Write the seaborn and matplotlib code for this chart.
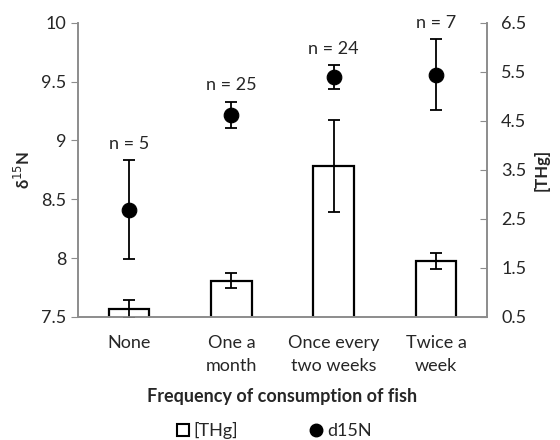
import matplotlib
matplotlib.use("Agg")
import matplotlib.pyplot as plt
import seaborn as sns
import numpy as np
from matplotlib.lines import Line2D
from matplotlib.ticker import FixedLocator

categories = ["None", "One a\nmonth", "Once every\ntwo weeks", "Twice a\nweek"]
n_labels = ["n = 5", "n = 25", "n = 24", "n = 7"]
thg = [0.66, 1.24, 3.58, 1.64]
thg_err = [0.19, 0.15, 0.94, 0.17]
d15n = [8.41, 9.22, 9.54, 9.56]
d15n_err = [0.42, 0.11, 0.10, 0.30]

sns.set_style("white")
plt.rcParams["font.family"] = ["Lato", "DejaVu Sans"]
axis_grey = "#8c8c8c"

fig = plt.figure(figsize=(5.6, 4.4), dpi=100)
ax = fig.add_axes([0.139, 0.280, 0.731, 0.668])
ax2 = ax.twinx()

# bars for [THg] on the right-hand scale
sns.barplot(x=categories, y=thg, color="white", edgecolor="black", linewidth=1.6,
            width=0.4, errorbar=None, ax=ax, zorder=2)
ax.errorbar(np.arange(len(categories)), thg, yerr=thg_err, fmt="none",
            ecolor="black", elinewidth=1.3, capsize=4, capthick=1.3, zorder=3)

# d15N points on the left-hand scale
sns.scatterplot(x=np.arange(len(categories)), y=d15n, color="black", s=110,
                edgecolor="black", ax=ax2, zorder=4, legend=False)
ax2.errorbar(np.arange(len(categories)), d15n, yerr=d15n_err, fmt="none",
             ecolor="black", elinewidth=1.3, capsize=4, capthick=1.3, zorder=3)
for i, lab in enumerate(n_labels):
    ax2.annotate(lab, (i, d15n[i] + d15n_err[i]), xytext=(0, 6), textcoords="offset points",
                 ha="center", va="bottom", fontsize=13)

ax.set_ylim(0.5, 6.5)
ax.set_yticks([0.5, 1.5, 2.5, 3.5, 4.5, 5.5, 6.5])
ax.set_yticklabels(["0.5", "1.5", "2.5", "3.5", "4.5", "5.5", "6.5"])
ax.yaxis.tick_right()
ax.yaxis.set_label_position("right")
ax.set_ylabel("[THg]", fontsize=12, fontweight="bold", labelpad=5)
ax.tick_params(axis="y", direction="in", length=5, color=axis_grey, labelsize=13, pad=10)

ax2.set_ylim(7.5, 10)
ax2.set_yticks([7.5, 8, 8.5, 9, 9.5, 10])
ax2.set_yticklabels(["7.5", "8", "8.5", "9", "9.5", "10"])
ax2.yaxis.tick_left()
ax2.yaxis.set_label_position("left")
ax2.set_ylabel("δ$^{15}$N", fontsize=12, fontweight="bold", labelpad=6)
ax2.tick_params(axis="y", direction="out", length=5, color=axis_grey, labelsize=13, pad=3)
ax2.set_xlim(-0.5, len(categories) - 0.5)
ax.set_xlim(-0.5, len(categories) - 0.5)

# x axis: labels centred, ticks on category boundaries
ax.set_xticks(np.arange(len(categories)))
ax.set_xticklabels(categories, fontsize=13, linespacing=1.55)
ax.xaxis.set_minor_locator(FixedLocator(np.arange(-0.5, len(categories), 1.0)))
ax.tick_params(axis="x", which="major", length=0, pad=13)
ax.tick_params(axis="x", which="minor", direction="out", length=5, color=axis_grey)
ax.set_xlabel("Frequency of consumption of fish", fontsize=13, fontweight="bold", labelpad=10)

for a in (ax, ax2):
    a.spines["top"].set_visible(False)
    for s in ("left", "right", "bottom"):
        a.spines[s].set_color(axis_grey)
        a.spines[s].set_linewidth(1.2)
    a.grid(False)

handles = [
    Line2D([], [], marker="s", linestyle="none", markerfacecolor="white",
           markeredgecolor="black", markeredgewidth=1.5, markersize=8, label="[THg]"),
    Line2D([], [], marker="o", linestyle="none", color="black", markersize=9, label="d15N"),
]
fig.legend(handles=handles, loc="center", bbox_to_anchor=(0.487, 0.022), ncol=2,
           frameon=False, fontsize=13, handletextpad=0.1, handlelength=1.0,
           columnspacing=3.8)

fig.savefig("out.png", dpi=100)
